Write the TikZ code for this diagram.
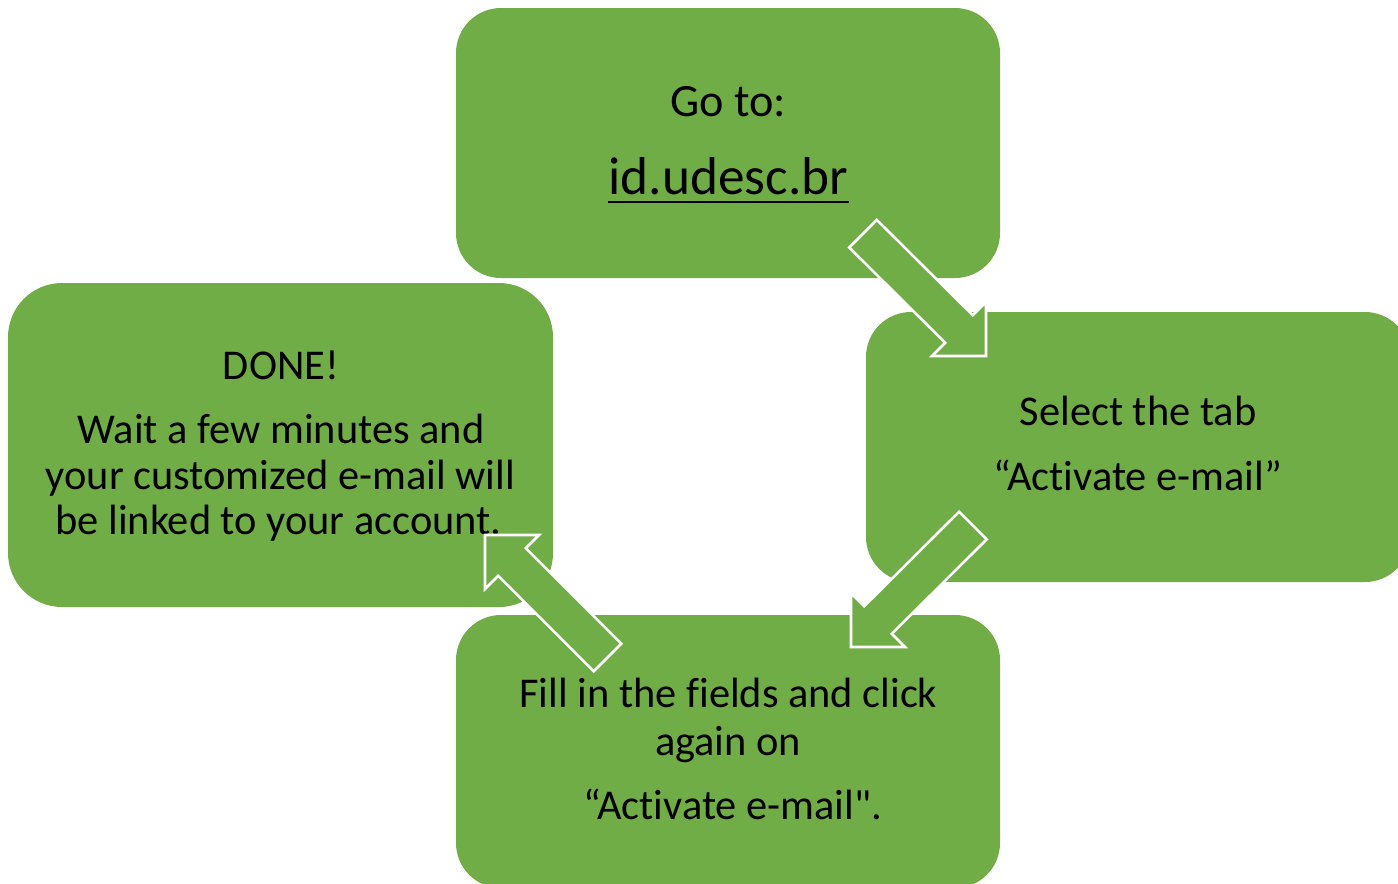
\documentclass[tikz,border=0pt]{standalone}
\usepackage{fontspec}
\newfontfamily\carl{Carlito}[Ligatures=NoCommon]
\usetikzlibrary{calc}
\definecolor{boxgreen}{HTML}{70AD47}
\begin{document}
\begin{tikzpicture}[x=0.75pt,y=-0.75pt,
  stepbox/.style={fill=boxgreen, draw=none, inner sep=0pt, rounded corners=33.75pt, minimum width=408pt, minimum height=202.5pt},
  txt/.style={anchor=base, inner sep=0pt, text=black, font=\carl\fontsize{31.8}{36}\selectfont},
  blockarrow/.style={fill=boxgreen, draw=white, line width=1.9pt, line join=miter}]
\useasboundingbox (0,0) rectangle (1398,883);
\clip (0,0) rectangle (1398,883);
% boxes
\node (top) [stepbox] at (728,143) {};
\node (left) [stepbox, rounded corners=40.5pt, minimum width=408.75pt, minimum height=243pt] at (280.5,445) {};
\node (right) [stepbox] at (1138,447) {};
\node (bottom) [stepbox, minimum height=204.75pt] at (728,751.5) {};
% texts
\node (t1) [txt, font=\carl\fontsize{34.7}{40}\selectfont] at (728,116.7) {Go to:};
\node (t2) [txt, font=\carl\fontsize{40}{46}\selectfont] at (728.5,194) {id.udesc.br};
\draw[line width=1.9pt, black] ($(t2.base west)+(0,8)$) -- ($(t2.base east)+(0,8)$);
\node (l1) [txt] at (281,379) {DONE!};
\node (l2) [txt] at (281,443) {Wait a few minutes and};
\node (l3) [txt] at (280.5,489) {your customized e-mail will};
\node (l4) [txt] at (278.5,534) {be linked to your account.};
\node (r1) [txt] at (1138,425.7) {Select the tab};
\node (r2) [txt] at (1137.5,490) {“Activate e-mail”};
\node (b1) [txt] at (728.5,707.7) {Fill in the fields and click};
\node (b2) [txt] at (728,755) {again on};
\node (b3) [txt] at (732.5,819) {“Activate e-mail".};
% block arrows
\coordinate (a1tip) at (986,356);
\coordinate (a2tip) at (851,647);
\coordinate (a3tip) at (485,535);
\draw[blockarrow] (a1tip) -- (986,302) -- (972.8,315.2) -- (876.8,219.9) -- (849.2,247.5) -- (945.2,342.8) -- (932,356) -- cycle;
\draw[blockarrow] (a2tip) -- (851,593) -- (864.2,606.2) -- (959.1,511.7) -- (986.7,539.3) -- (891.8,633.8) -- (905,647) -- cycle;
\draw[blockarrow] (a3tip) -- (539,535) -- (525.8,548.2) -- (621.3,643.7) -- (593.7,671.3) -- (498.2,575.8) -- (485,589) -- cycle;
\end{tikzpicture}
\end{document}
